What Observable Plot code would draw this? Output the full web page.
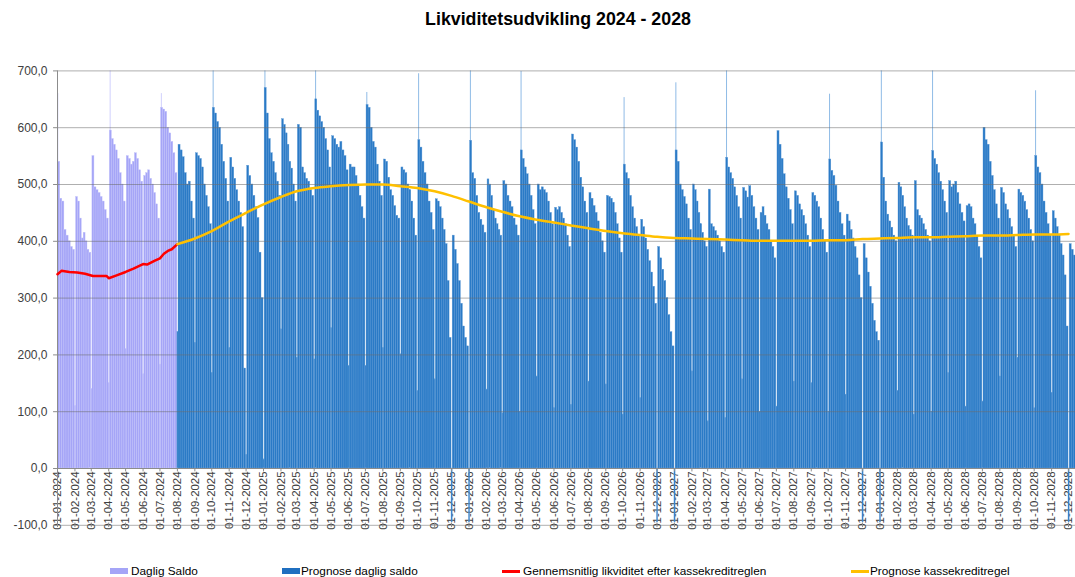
<!DOCTYPE html>
<html><head><meta charset="utf-8">
<script src="https://cdn.jsdelivr.net/npm/d3@7"></script>
<script src="https://cdn.jsdelivr.net/npm/@observablehq/plot@0.6"></script>
<style>
body{margin:0;background:#fff;font-family:"Liberation Sans",Arial,sans-serif;}
#wrap{position:relative;width:1075px;height:577px;overflow:hidden;background:#fff;}
#chart{position:absolute;left:0;top:0;}
#title{position:absolute;top:9px;left:0;width:1116px;text-align:center;font-weight:bold;font-size:17.8px;color:#000;}
.leg{position:absolute;top:565px;font-size:11.8px;color:#000;white-space:nowrap;line-height:13px;}
.sw{position:absolute;}
</style></head><body>
<div id="wrap">
<div id="chart"></div>
<div id="title">Likviditetsudvikling 2024 - 2028</div>
<div class="sw" style="left:110px;top:568px;width:18px;height:6px;background:#a5a5f7"></div>
<div class="leg" style="left:131px">Daglig Saldo</div>
<div class="sw" style="left:282px;top:568px;width:18px;height:6px;background:#1f6fc0"></div>
<div class="leg" style="left:301px">Prognose daglig saldo</div>
<div class="sw" style="left:502px;top:570px;width:18px;height:2.5px;background:#ff0000"></div>
<div class="leg" style="left:523px">Gennemsnitlig likviditet efter kassekreditreglen</div>
<div class="sw" style="left:851px;top:570px;width:18px;height:2.5px;background:#ffc000"></div>
<div class="leg" style="left:870px">Prognose kassekreditregel</div>
</div>
<script>
// ---- DATA ----
// Daily balance (actual), Jan–Jul 2024: 8 readings per month, plus low value at month start
const saldoFirstMonth = "2024-01-01";
const saldoValues = [
 [540,475,470,420,410,400,390,385],
 [478,470,440,405,415,400,385,380],
 [550,495,490,485,478,470,455,440],
 [595,580,570,560,545,520,500,470],
 [550,545,535,540,555,545,525,505],
 [515,520,525,510,500,485,465,440],
 [635,632,628,600,590,575,555,520]
];
const saldoDips = [null,110,140,150,210,166,183];

// Forecast daily balance, Aug 2024 – Dec 2028
const prognoseFirstMonth = "2024-08-01";
const prognoseValues = [
 [570,560,548,520,500,505,470,440],
 [555,550,545,530,500,480,460,430],
 [635,625,610,600,570,540,510,470],
 [547,530,510,490,470,450,425,176],
 [533,515,500,480,460,441,380,300],
 [670,625,580,555,540,520,505,480],
 [615,605,590,570,540,528,500,470],
 [605,600,530,520,510,505,490,480],
 [650,630,620,610,600,580,560,530],
 [585,580,570,565,575,560,550,525],
 [535,530,530,515,500,480,460,440],
 [640,635,600,575,565,535,505,480],
 [544,540,512,490,480,462,445,440],
 [530,525,520,500,490,470,440,410],
 [578,565,540,520,500,470,450,420],
 [474,470,460,440,420,395,330,230],
 [410,385,360,330,290,250,230,215],
 [577,520,510,480,450,438,428,415],
 [509,500,480,455,440,430,420,410],
 [506,500,480,470,460,440,428,410],
 [560,545,530,518,500,480,455,430],
 [500,490,495,490,485,470,450,430],
 [459,455,460,450,440,430,410,390],
 [588,578,565,540,512,495,470,450],
 [485,475,462,450,435,415,400,380],
 [480,478,475,468,450,430,405,380],
 [535,520,510,480,460,440,425,410],
 [438,425,405,385,365,345,320,290],
 [390,370,350,330,300,270,240,215],
 [560,540,500,490,478,465,440,420],
 [500,490,470,450,430,415,400,390],
 [491,430,425,418,410,400,390,380],
 [547,530,520,510,495,480,460,440],
 [494,488,477,497,480,460,440,420],
 [450,460,445,430,420,400,390,370],
 [594,570,545,518,495,475,455,430],
 [488,480,465,455,445,430,410,390],
 [485,480,470,460,440,420,400,380],
 [544,524,515,498,470,450,430,410],
 [447,435,420,405,390,370,340,300],
 [395,370,345,320,290,260,240,225],
 [574,512,470,447,435,424,410,400],
 [503,495,480,460,440,427,420,410],
 [506,455,445,440,430,420,410,400],
 [559,545,535,520,505,490,470,450],
 [506,495,500,505,485,465,450,435],
 [462,465,460,440,430,410,390,370],
 [600,578,570,540,515,490,465,440],
 [494,485,465,455,440,425,410,390],
 [491,485,480,470,455,440,420,400],
 [550,530,520,500,470,450,430,410],
 [453,440,425,410,395,375,340,250],
 [395,385,375,365,350,330,300,270]
];
const prognoseDips = [240,221,168,212,24,16,245,195,192,247,180,180,212,201,136,157,-95,-95,139,97,100,162,106,112,153,148,95,124,-95,-95,171,83,89,157,100,109,153,150,100,130,-95,-95,136,95,100,168,109,118,162,195,106,133,-95];

// Single-day peaks
const spikeDates  = ["2024-01-01","2024-04-03","2024-07-03","2024-10-03","2025-01-03","2025-04-03","2025-07-03","2025-10-03","2026-01-03","2026-04-03","2026-10-03","2027-01-03","2027-04-03","2027-10-03","2028-01-03","2028-04-03","2028-10-03"];
const spikeValues = [660,700,660,700,700,700,662,695,700,699,653,679,700,659,700,700,665];

// Average liquidity according to overdraft rule (actual)
const avgDates  = ["2024-01-01","2024-01-08","2024-01-22","2024-02-05","2024-02-19","2024-03-04","2024-03-18","2024-03-28","2024-04-01","2024-04-15","2024-05-01","2024-05-15","2024-06-01","2024-06-08","2024-06-22","2024-07-01","2024-07-08","2024-07-15","2024-07-22","2024-08-01"];
const avgValues = [342,348,346,345,343,339,339,339,335,340,346,352,360,359,366,370,378,383,386,395];

// Forecast overdraft rule (monthly, Aug 2024 – Dec 2028)
const ruleFirstMonth = "2024-08-01";
const ruleValues = [395,405,418,435,450,465,478,488,494,497,499,500,500,497,494,488,480,470,460,452,444,438,433,428,423,418,414,411,408,406,405,404,403,402,401,401,401,401,402,402,404,405,406,407,407,408,409,410,410,411,412,412,413];

// Axis
const yTicks = [-100,0,100,200,300,400,500,600,700];
const xTickFirst = "2024-01-01", xTickLast = "2028-12-01";

// ---- BUILD ----
const DAY = 864e5;
const parse = s => new Date(s + "T00:00:00Z");
function buildBars(first, values, dips, series) {
  const out = [];
  const months = d3.utcMonth.range(parse(first), d3.utcMonth.offset(parse(first), values.length));
  months.forEach((s, i) => {
    const e = d3.utcMonth.offset(s, 1);
    const dip = dips[i];
    const start = new Date(+s + (dip == null ? 1 : 2) * DAY);
    if (dip != null) out.push({x1: s, x2: start, y1: 0, y2: dip, series});
    const n = values[i].length;
    values[i].forEach((v, k) => {
      out.push({x1: new Date(+start + (e - start) * k / n), x2: new Date(+start + (e - start) * (k + 1) / n), y1: 0, y2: v, series});
    });
  });
  return out;
}
const bars = [
  ...buildBars(saldoFirstMonth, saldoValues, saldoDips, "saldo"),
  ...buildBars(prognoseFirstMonth, prognoseValues, prognoseDips, "prognose")
];
const spikes = spikeDates.map((d, i) => ({x: new Date(+parse(d) + 0.5 * DAY), y: spikeValues[i], series: parse(d) < parse(prognoseFirstMonth) ? "saldo" : "prognose"}));
const avgLine = avgDates.map((d, i) => ({x: parse(d), y: avgValues[i]}));
const ruleLine = d3.utcMonth.range(parse(ruleFirstMonth), d3.utcMonth.offset(parse(ruleFirstMonth), ruleValues.length)).map((d, i) => ({x: d, y: ruleValues[i]}));
const xTicks = d3.utcMonth.range(parse(xTickFirst), new Date(+parse(xTickLast) + DAY));
const fmtDate = d3.utcFormat("%d-%m-%Y");
const fmtY = v => d3.format(".1f")(v).replace(".", ",").replace("−", "-");

const x0 = parse("2024-01-01"), x1 = new Date(Date.UTC(2028, 11, 13, 10));
const fillC = {saldo: "#a5a5f7", prognose: "#2a7ac6"};
const strokeC = {saldo: "#c3c3fb", prognose: "#5d9ad6"};
const spikeC = {saldo: "#d0d0fd", prognose: "#8fbbe6"};

const chart = Plot.plot({
  width: 1075, height: 577,
  marginLeft: 0, marginRight: 0, marginTop: 0, marginBottom: 0,
  x: {type: "utc", domain: [x0, x1], range: [57, 1075], axis: null},
  y: {domain: [-100, 700], range: [524.8, 70.4], axis: null},
  style: {fontFamily: "'Liberation Sans', Arial, sans-serif", background: "transparent", overflow: "visible"},
  marks: [
    // x tick labels
    Plot.text(xTicks, {x: d => d, y: 0, text: d => fmtDate(d), rotate: -90, textAnchor: "end", dy: 3, fontSize: 11.4, fill: "#404040"}),
    // y tick labels
    Plot.text(yTicks, {x: x0, y: d => d, text: d => fmtY(d), textAnchor: "end", dx: -10, fontSize: 12, fill: "#404040"}),
    // spikes
    Plot.ruleX(spikes, {x: "x", y1: 0, y2: "y", stroke: d => spikeC[d.series], strokeWidth: 1}),
    // bars
    Plot.rect(bars, {x1: "x1", x2: "x2", y1: "y1", y2: "y2", fill: d => fillC[d.series], stroke: d => strokeC[d.series], strokeWidth: 0.4, inset: 0}),
    // gridlines
    Plot.ruleY(yTicks, {y: d => d, x1: x0, x2: x1, stroke: "#6e6e6e", strokeOpacity: 0.55}),
    // axes
    Plot.ruleX([x0], {y1: -100, y2: 700, stroke: "#8c8c8c"}),
    Plot.ruleY(yTicks, {y: d => d, x1: new Date(+x0 - 7 * DAY), x2: x0, stroke: "#8c8c8c"}),
    Plot.ruleY([0], {x1: x0, x2: x1, stroke: "#8c8c8c"}),
    Plot.ruleX(xTicks, {x: d => d, y1: 0, y2: -6, stroke: "#8c8c8c"}),
    Plot.ruleX(xTicks, {x: d => d, y1: -96, y2: -104, stroke: "#8c8c8c"}),
    // lines
    Plot.line(avgLine, {x: "x", y: "y", stroke: "#ff0000", strokeWidth: 2.5}),
    Plot.line(ruleLine, {x: "x", y: "y", stroke: "#ffc000", strokeWidth: 2.5, curve: "monotone-x"})
  ]
});
document.getElementById("chart").appendChild(chart);
</script>
</body></html>
